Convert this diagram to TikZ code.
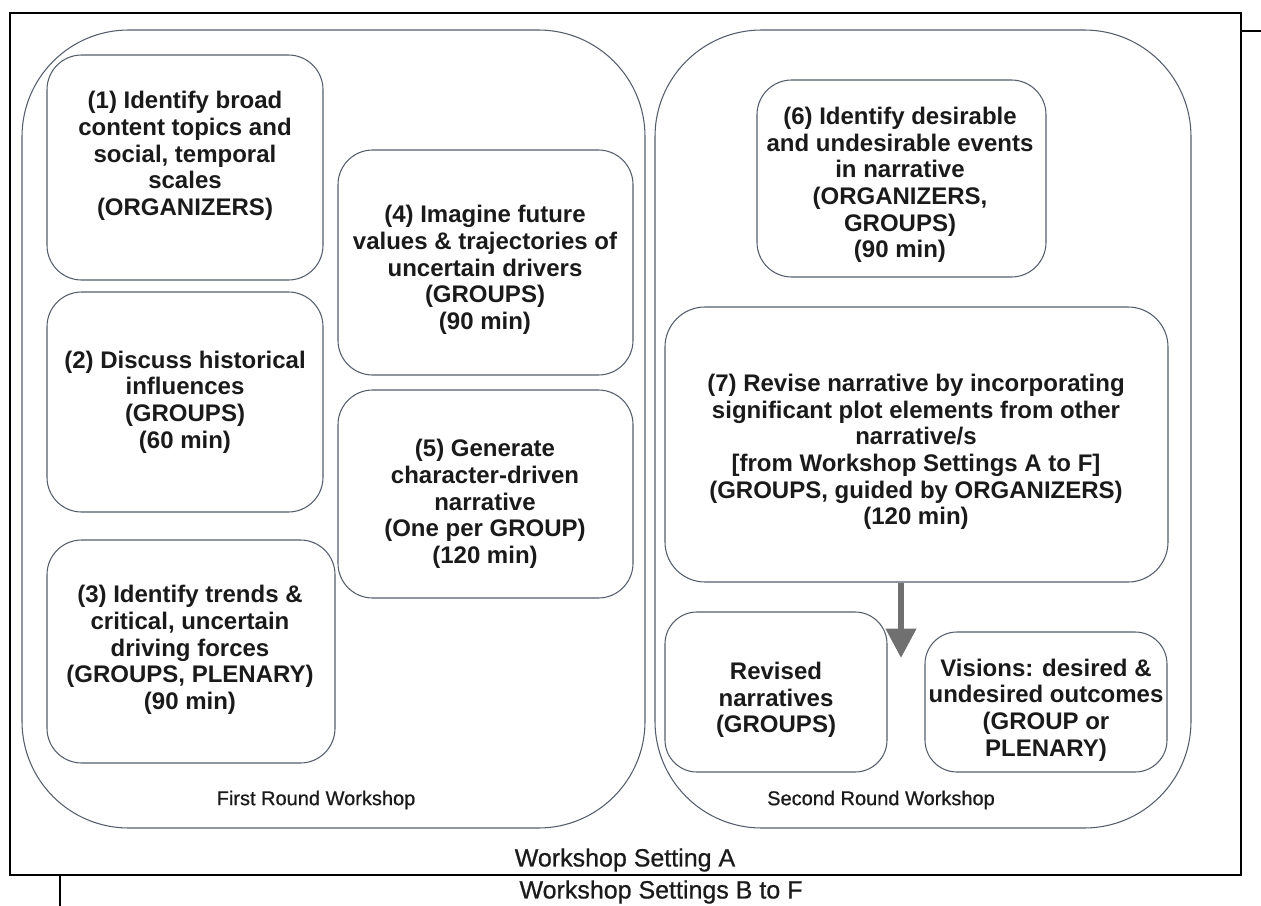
\documentclass[tikz,border=0pt]{standalone}
\usepackage{fontspec}
\setmainfont{Liberation Sans}
\newfontfamily\labelfont[FakeBold=0.7]{Liberation Sans}
\usetikzlibrary{arrows.meta}
\definecolor{linec}{HTML}{555D6B}
\definecolor{arrowc}{HTML}{707070}
\definecolor{textc}{HTML}{1A1A1A}
\begin{document}
\begin{tikzpicture}[x=0.75pt,y=-0.75pt,
  frame/.style={draw=black, line width=1.5pt, inner sep=0pt},
  tick/.style={draw=black, line width=1.2pt},
  bigbox/.style={draw=linec, line width=0.8pt, rounded corners=80pt, inner sep=0pt},
  box/.style={draw=linec, line width=0.8pt, rounded corners=26pt, inner sep=0pt},
  boxtext/.style={font=\fontsize{18}{20}\selectfont\bfseries, text=textc, align=center, inner sep=0pt},
  roundlabel/.style={font=\labelfont\fontsize{15}{18}\selectfont, text=textc, inner sep=0pt},
  setlabel/.style={font=\labelfont\fontsize{18.75}{22}\selectfont, text=textc, inner sep=0pt},
  flow/.style={draw=arrowc, line width=4.5pt, -{Triangle[width=22pt,length=22pt]}}
]
\useasboundingbox (0,0) rectangle (1261,906);

% outer frame
\node[frame, minimum width=923.25pt, minimum height=646.5pt] (setA) at (625.5,444) {};
\coordinate (tr) at (1261,31);
\coordinate (bl) at (60,906);
\draw[tick] (setA.east |- tr) -- (tr);
\draw[tick] (setA.south -| bl) -- (bl);

% big rounds
\node[bigbox, minimum width=467.25pt, minimum height=598.5pt] (first) at (333.5,429) {};
\node[bigbox, minimum width=402pt, minimum height=598.5pt] (second) at (923,429) {};

% boxes
\node[box, minimum width=207pt, minimum height=168.75pt] (b1) at (185,167.5) {};
\node[box, minimum width=207pt, minimum height=165pt] (b2) at (185,402) {};
\node[box, minimum width=216pt, minimum height=167.25pt] (b3) at (191,651.5) {};
\node[box, minimum width=221.25pt, minimum height=168.75pt] (b4) at (485.5,262.5) {};
\node[box, minimum width=221.25pt, minimum height=156pt] (b5) at (485.5,494) {};
\node[box, minimum width=216.75pt, minimum height=147.75pt] (b6) at (901.5,178.5) {};
\node[box, minimum width=377.25pt, minimum height=206.25pt, rounded corners=30pt] (b7) at (916.5,444.5) {};
\node[box, minimum width=166.5pt, minimum height=120pt, rounded corners=24pt] (b8) at (776,692) {};
\node[box, minimum width=181.5pt, minimum height=105pt, rounded corners=24pt] (b9) at (1046,702) {};

% texts
\node[boxtext] (t1) at (185,156) {(1) Identify broad\\content topics and\\social, temporal\\scales\\(ORGANIZERS)};
\node[boxtext] (t2) at (185,402) {(2) Discuss historical\\influences\\(GROUPS)\\(60 min)};
\node[boxtext] (t3) at (190,650) {(3) Identify trends \&\\critical, uncertain\\driving forces\\(GROUPS, PLENARY)\\(90 min)};
\node[boxtext] (t4) at (485,270) {(4) Imagine future\\values \& trajectories of\\uncertain drivers\\(GROUPS)\\(90 min)};
\node[boxtext] (t5) at (485,504) {(5) Generate\\character-driven\\narrative\\(One per GROUP)\\(120 min)};
\node[boxtext] (t6) at (900,185) {(6) Identify desirable\\and undesirable events\\in narrative\\(ORGANIZERS,\\GROUPS)\\(90 min)};
\node[boxtext] (t7) at (916,452) {(7) Revise narrative by incorporating\\significant plot elements from other\\narrative/s\\{[from Workshop Settings A to F]}\\(GROUPS, guided by ORGANIZERS)\\(120 min)};
\node[boxtext] (t8) at (776,700) {Revised\\narratives\\(GROUPS)};
\node[boxtext] (t9) at (1046,710) {Visions: desired \&\\undesired outcomes\\(GROUP or\\PLENARY)};

% arrow
\coordinate (ah) at (901,658);
\draw[flow] (b7.south -| ah) -- (ah);

% labels
\node[roundlabel] (l1) at (316,800) {First Round Workshop};
\node[roundlabel] (l2) at (881,800) {Second Round Workshop};
\node[setlabel] (l3) at (625,860) {Workshop Setting A};
\node[setlabel] (l4) at (661,892) {Workshop Settings B to F};
\end{tikzpicture}
\end{document}
